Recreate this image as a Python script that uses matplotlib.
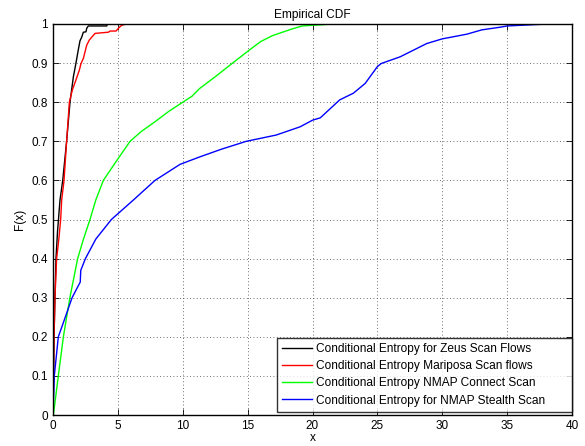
import matplotlib
matplotlib.use("Agg")
import matplotlib.pyplot as plt

plt.rcParams['font.family'] = ['Liberation Sans', 'DejaVu Sans']

zeus_x = [0, 0.03, 0.08, 0.15, 0.23, 0.35, 0.54, 0.75, 1.05, 1.31, 1.57, 1.77, 1.95, 2.08, 2.21, 2.34, 2.54, 2.6, 2.72, 4.14, 4.2]
zeus_y = [0, 0.05, 0.2, 0.3, 0.4, 0.47, 0.55, 0.60, 0.70, 0.80, 0.865, 0.90, 0.934, 0.957, 0.966, 0.979, 0.98, 0.989, 0.995, 0.995, 1.0]

mari_x = [0, 0.03, 0.08, 0.15, 0.28, 0.45, 0.59, 0.67, 0.85, 1.05, 1.26, 1.49, 1.77, 2.03, 2.16, 2.34, 2.6, 2.8, 3.24, 4.27, 4.4, 4.86, 5.04, 5.3, 5.68]
mari_y = [0, 0.1, 0.2, 0.3, 0.4, 0.45, 0.5, 0.55, 0.6, 0.7, 0.8, 0.831, 0.857, 0.882, 0.899, 0.912, 0.946, 0.959, 0.976, 0.979, 0.982, 0.982, 0.989, 0.997, 1.0]

conn_x = [0, 0.03, 0.41, 0.8, 1.3, 1.9, 2.35, 2.85, 3.3, 3.88, 4.9, 5.94, 6.8, 7.86, 8.9, 10.0, 10.7, 11.3, 12.5, 13.8, 15.0, 16.0, 16.9, 18.3, 19.2, 21.6]
conn_y = [0, 0.0, 0.1, 0.2, 0.3, 0.4, 0.45, 0.5, 0.55, 0.6, 0.65, 0.70, 0.725, 0.75, 0.776, 0.80, 0.815, 0.835, 0.865, 0.899, 0.93, 0.955, 0.97, 0.986, 0.995, 1.0]

stealth_x = [0, 0.05, 0.1, 0.41, 0.85, 1.47, 2.1, 2.14, 2.5, 3.3, 4.5, 6.2, 7.86, 9.79, 11.3, 13.0, 14.9, 17.2, 19.04, 20.0, 20.6, 22.1, 23.15, 24.06, 25.0, 25.3, 26.75, 28.8, 30.0, 31.9, 33.05, 34.5, 35.0, 37.5, 38.6]
stealth_y = [0, 0.05, 0.1, 0.2, 0.241, 0.3, 0.34, 0.37, 0.4, 0.45, 0.5, 0.55, 0.6, 0.641, 0.66, 0.68, 0.70, 0.716, 0.737, 0.754, 0.76, 0.806, 0.823, 0.848, 0.891, 0.899, 0.916, 0.95, 0.962, 0.974, 0.985, 0.992, 0.995, 0.999, 1.0]

labels = ["Conditional Entropy for Zeus Scan Flows",
          "Conditional Entropy Mariposa Scan flows",
          "Conditional Entropy NMAP Connect Scan",
          "Conditional Entropy for NMAP Stealth Scan"]
colors = ["#000000", "#ff0000", "#00ff00", "#0000ff"]

fig = plt.figure(figsize=(5.85, 4.46), dpi=100)
ax = fig.add_axes([53/585, 1-415/446, (572-53)/585, (415-24)/446])

for xs, ys, lab, c in zip([zeus_x, mari_x, conn_x, stealth_x],
                          [zeus_y, mari_y, conn_y, stealth_y], labels, colors):
    ax.plot(xs, ys, color=c, lw=1.0, label=lab)

ax.set_xlim(0, 40)
ax.set_ylim(0, 1)
ax.set_xticks(range(0, 41, 5))
ax.set_yticks([i/10 for i in range(11)])
ax.set_yticklabels(["0", "0.1", "0.2", "0.3", "0.4", "0.5", "0.6", "0.7", "0.8", "0.9", "1"])
ax.grid(True, linestyle=(0, (1, 3)), color='#404040', lw=0.6)
ax.tick_params(direction='in', top=True, right=True, labelsize=8.5, length=4, width=0.6)
for s in ax.spines.values():
    s.set_linewidth(1.0)
ax.set_title("Empirical CDF", fontsize=8.6, pad=4)
ax.set_xlabel("x", fontsize=8.6, labelpad=0)
ax.set_ylabel("F(x)", fontsize=8.6, labelpad=4)

leg = ax.legend(loc='lower left', bbox_to_anchor=(0.4316, 0.0077, 0.5684, 0.18),
                mode='expand', fontsize=8.6, frameon=True, fancybox=False,
                edgecolor='black', borderaxespad=0, handlelength=2.5,
                labelspacing=0.43, borderpad=0.45, handletextpad=0.35)
leg.get_frame().set_linewidth(1.0)

fig.savefig("out.png", dpi=100)
